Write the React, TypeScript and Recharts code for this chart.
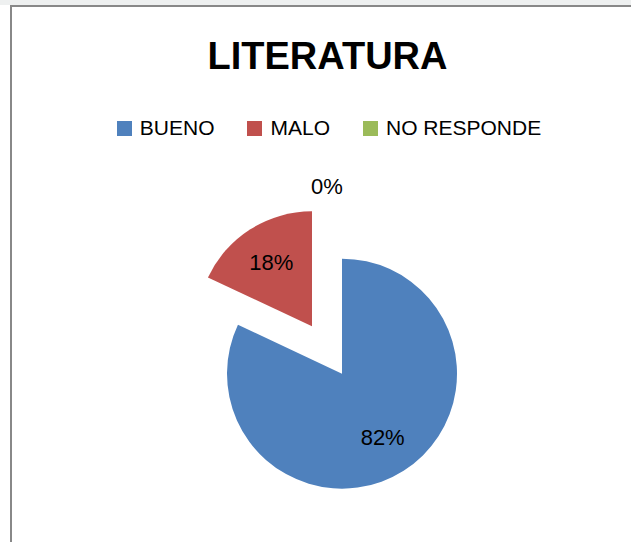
import { PieChart, Pie, Cell, Sector, Legend } from "recharts";

const categories = ["BUENO", "MALO", "NO RESPONDE"];
const values = [82, 18, 0];
const colors = ["#4F81BD", "#C0504D", "#9BBB59"];

const data = categories.map((name, i) => ({ name, value: values[i] }));

const RAD = Math.PI / 180;
const EXPLODE = 28;
const RADIUS = 115;
const FONT = "'Liberation Sans', Arial, sans-serif";

function ExplodedSector(props: any) {
  const { cx, cy, midAngle } = props;
  const dx = EXPLODE * Math.cos(-midAngle * RAD);
  const dy = EXPLODE * Math.sin(-midAngle * RAD);
  return <Sector {...props} cx={cx + dx} cy={cy + dy} />;
}

function SliceLabel(props: any) {
  const { cx, cy, midAngle, outerRadius, percent } = props;
  const dist = percent > 0 ? EXPLODE + outerRadius * 0.66 : outerRadius + 49;
  const x = cx + dist * Math.cos(-midAngle * RAD);
  const y = cy + dist * Math.sin(-midAngle * RAD);
  return (
    <text x={x} y={y} textAnchor="middle" dominantBaseline="central"
      fill="#000" fontSize={22} fontFamily={FONT}>
      {`${Math.round(percent * 100)}%`}
    </text>
  );
}

function LegendContent({ payload }: { payload?: { value: string; color: string }[] }) {
  return (
    <div style={{ display: "flex", justifyContent: "center", gap: 33, fontFamily: FONT, fontSize: 21 }}>
      {(payload ?? []).map((p) => (
        <div key={p.value} style={{ display: "flex", alignItems: "center", gap: 8 }}>
          <span style={{ width: 15, height: 15, background: p.color, display: "inline-block" }} />
          <span style={{ color: "#000", lineHeight: "24px" }}>{p.value}</span>
        </div>
      ))}
    </div>
  );
}

export default function App() {
  return (
    <div style={{ position: "absolute", left: 0, top: 0, width: 631, height: 542, background: "#fff", overflow: "hidden" }}>
      <div style={{ position: "absolute", left: 0, top: 0, width: 631, height: 5, background: "#eef0f0" }} />
      <div style={{
        position: "absolute", left: 10, top: 5, width: 640, height: 560,
        borderLeft: "2px solid #888", borderTop: "2px solid #888", background: "#fff",
      }} />
      <div style={{
        position: "absolute", left: 0, width: 655, top: 35, textAlign: "center",
        fontFamily: FONT, fontWeight: "bold", fontSize: 38, color: "#000",
      }}>
        LITERATURA
      </div>
      <div style={{ position: "absolute", left: 0, top: 0 }}>
        <PieChart width={631} height={542} margin={{ top: 0, right: 0, bottom: 0, left: 0 }}>
          <Legend
            content={<LegendContent />}
            verticalAlign="top"
            wrapperStyle={{ top: 116, left: 0, width: 658 }}
          />
          <Pie
            data={data}
            dataKey="value"
            nameKey="name"
            cx={327}
            cy={326}
            outerRadius={RADIUS}
            startAngle={90}
            endAngle={-270}
            stroke="none"
            shape={ExplodedSector}
            label={SliceLabel}
            labelLine={false}
            isAnimationActive={false}
          >
            {data.map((d, i) => (
              <Cell key={d.name} fill={colors[i]} />
            ))}
          </Pie>
        </PieChart>
      </div>
    </div>
  );
}
